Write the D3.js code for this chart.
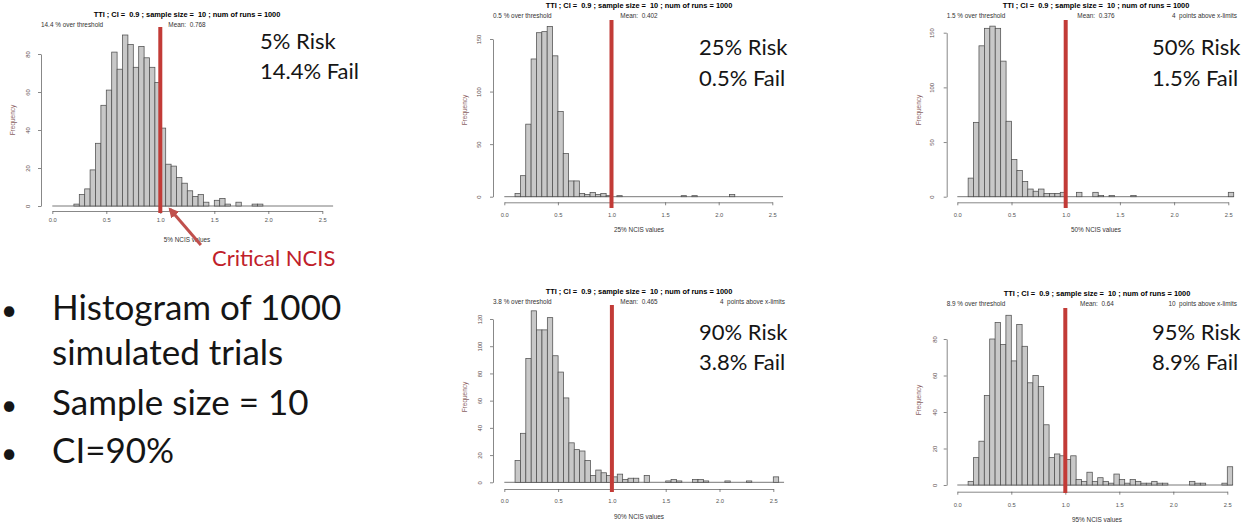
<!DOCTYPE html>
<html>
<head>
<meta charset="utf-8">
<title>NCIS histograms</title>
<script src="https://cdn.jsdelivr.net/npm/d3@7/dist/d3.min.js"></script>
<style>
    body { margin: 0; background: #fff; }
    svg { display: block; }
    .rtext { font-family: "Liberation Sans", Arial, sans-serif; }
    .rtext text { white-space: pre; }
    .slide { font-family: Lato, "Open Sans", sans-serif; }
</style>
</head>
<body>
<svg id="slide" width="1252" height="525"></svg>
<script>
// bin counts for the 1000 simulated runs, bins 0.05 wide starting at 0.0
var binWidth = 0.05;
var threshold = 1.0;

var counts05 = [0,0,0,0,1,6,9,19,33,53,61,81,72,90,85,73,84,78,73,65,
                41,22,21,15,12,8,5,6,2,0,3,4,1,0,2,0,0,1,1,0,
                0,0,0,0,0,0,0,0,0,0,0,0];
var counts25 = [0,0,3,20,69,131,156,157,162,134,81,41,15,15,3,2,4,2,3,1,
                0,1,0,0,0,0,0,0,0,0,0,0,0,1,0,1,0,0,0,0,
                0,0,2,0,0,0,0,0,0,0,0,0];
var counts50 = [0,0,17,68,138,154,156,154,124,69,34,24,14,7,5,7,3,3,3,4,
                0,0,4,0,0,4,1,0,1,0,0,0,1,0,0,0,0,0,0,0,
                0,0,0,0,0,0,0,0,0,0,4];
var counts90 = [0,0,16,36,91,126,112,112,121,93,81,62,29,24,23,16,5,9,7,5,
                4,6,2,3,3,0,5,0,0,0,1,2,1,0,0,2,2,1,0,0,
                0,1,0,0,0,1,0,0,0,0,4,0];
var counts95 = [0,0,2,15,24,49,80,89,77,93,68,88,76,56,60,54,33,15,17,16,
                14,16,3,2,7,2,4,2,1,6,3,1,3,2,1,1,2,1,1,0,
                0,0,0,2,1,1,0,0,0,1,10];

var xTicks = [0, 0.5, 1, 1.5, 2, 2.5];
var yTicks05 = [0, 20, 40, 60, 80];
var yTicks25 = [0, 50, 100, 150];
var yTicks50 = [0, 50, 100, 150];
var yTicks90 = [0, 20, 40, 60, 80, 100, 120];
var yTicks95 = [0, 20, 40, 60, 80];

var titleText = "TTI ; CI =  0.9 ; sample size =  10 ; num of runs = 1000";
var riskLabels = ["5% Risk", "25% Risk", "50% Risk", "90% Risk", "95% Risk"];
var failLabels = ["14.4% Fail", "0.5% Fail", "1.5% Fail", "3.8% Fail", "8.9% Fail"];
var overLabels = ["14.4 % over threshold", "0.5 % over threshold", "1.5 % over threshold",
                  "3.8 % over threshold", "8.9 % over threshold"];
var meanLabels = ["Mean:  0.768", "Mean:  0.402", "Mean:  0.376", "Mean:  0.465", "Mean:  0.64"];
var aboveLabels = ["", "", "4  points above x-limits", "4  points above x-limits", "10  points above x-limits"];
var xLabels = ["5% NCIS values", "25% NCIS values", "50% NCIS values", "90% NCIS values", "95% NCIS values"];

var bullets = [["Histogram of 1000", "simulated trials"], ["Sample size = 10"], ["CI=90%"]];
var calloutText = "Critical NCIS";

var allCounts = [counts05, counts25, counts50, counts90, counts95];
var allYTicks = [yTicks05, yTicks25, yTicks50, yTicks90, yTicks95];

// where each screenshot of the R plot sits on the slide
var layout = [
    {x0: 52.3, x1: 322.3, yZero: 206, yTop: 54, axisX: 41, axisY: 211, tickOff: 9, yLabOff: 11, freqY: 120,
        center: 187, right: 333, titleY: 16.5, subY: 27, xlabY: 242, lineTop: 27, lineBot: 213, textX: 260, riskY: 49, failY: 79},
    {x0: 504.3, x1: 772.3, yZero: 196.7, yTop: 39, axisX: 493, axisY: 202.3, tickOff: 12.5, yLabOff: 12, freqY: 110,
        center: 639, right: 785, titleY: 7.5, subY: 18, xlabY: 232, lineTop: 20, lineBot: 208, textX: 699, riskY: 55, failY: 86},
    {x0: 957.3, x1: 1228.3, yZero: 196.7, yTop: 32.7, axisX: 946.7, axisY: 202.3, tickOff: 12.5, yLabOff: 13, freqY: 110,
        center: 1096, right: 1237, titleY: 7.5, subY: 18, xlabY: 232, lineTop: 20, lineBot: 208, textX: 1152, riskY: 55, failY: 86},
    {x0: 504.3, x1: 773.3, yZero: 482.3, yTop: 319, axisX: 493, axisY: 489, tickOff: 11.7, yLabOff: 11, freqY: 397,
        center: 639, right: 785, titleY: 293.5, subY: 304, xlabY: 519, lineTop: 305, lineBot: 492, textX: 699, riskY: 340, failY: 370},
    {x0: 957.3, x1: 1227.3, yZero: 485, yTop: 339, axisX: 946.7, axisY: 491.7, tickOff: 13.3, yLabOff: 10, freqY: 400,
        center: 1097, right: 1237, titleY: 295.5, subY: 306, xlabY: 521.5, lineTop: 308, lineBot: 493, textX: 1152, riskY: 340, failY: 370}
];

var svg = d3.select("#slide");
var redLine = "#c23b37";
var scales = [];

var drawHist = function(i) {
    var lay = layout[i];
    var counts = allCounts[i];
    var yTicks = allYTicks[i];
    var yMax = yTicks[yTicks.length - 1];

    var x = d3.scaleLinear().domain([0, 2.5]).range([lay.x0, lay.x1]);
    var y = d3.scaleLinear().domain([0, yMax]).range([lay.yZero, lay.yTop]);
    scales.push({x: x, y: y});

    var g = svg.append("g").attr("class", "rtext");

    var bins = counts.map(function(c, j) {
        return {lo: j * binWidth, hi: (j + 1) * binWidth, n: c};
    });

    // zero height bins show up as a flat line along the bottom
    g.append("line")
        .attr("x1", x(0)).attr("x2", x(counts.length * binWidth))
        .attr("y1", y(0)).attr("y2", y(0))
        .attr("stroke", "#555").attr("stroke-width", 0.8);

    g.selectAll("rect.bar")
        .data(bins.filter(function(d) { return d.n > 0; }))
        .enter()
        .append("rect")
        .attr("class", "bar")
        .attr("x", function(d) { return x(d.lo); })
        .attr("width", function(d) { return x(d.hi) - x(d.lo); })
        .attr("y", function(d) { return y(d.n); })
        .attr("height", function(d) { return y(0) - y(d.n); })
        .attr("fill", "#c8c8c8")
        .attr("stroke", "#4f4f4f")
        .attr("stroke-width", 0.75);

    var xAxis = d3.axisBottom(x).tickValues(xTicks).tickFormat(d3.format(".1f"))
        .tickSize(3).tickSizeOuter(0);
    var xa = g.append("g")
        .attr("transform", "translate(0," + lay.axisY + ")")
        .call(xAxis);
    xa.attr("font-size", 5.8).attr("font-family", null).attr("color", "#555");
    xa.selectAll("line, path").attr("stroke-width", 0.7);
    xa.selectAll(".tick text").attr("y", lay.tickOff).attr("dy", "0.35em").attr("fill", "#555");

    var yAxis = d3.axisLeft(y).tickValues(yTicks).tickSize(3).tickSizeOuter(0);
    var ya = g.append("g")
        .attr("transform", "translate(" + lay.axisX + ",0)")
        .call(yAxis);
    ya.attr("font-size", 5.8).attr("font-family", null).attr("color", "#555");
    ya.selectAll("line, path").attr("stroke-width", 0.7);
    ya.selectAll(".tick text")
        .attr("transform", "rotate(-90)")
        .attr("x", 0).attr("y", -lay.yLabOff).attr("dy", 0)
        .attr("text-anchor", "middle")
        .attr("fill", "#5a4c4c");

    g.append("text")
        .attr("transform", "translate(" + (lay.axisX - 26) + "," + lay.freqY + ") rotate(-90)")
        .attr("text-anchor", "middle")
        .attr("font-size", 6.5)
        .attr("fill", "#8a6262")
        .text("Frequency");

    g.append("text")
        .attr("x", lay.center).attr("y", lay.titleY)
        .attr("text-anchor", "middle")
        .attr("font-size", 7.4).attr("font-weight", "bold")
        .text(titleText);

    g.append("text")
        .attr("x", lay.axisX).attr("y", lay.subY)
        .attr("font-size", 6.4).attr("fill", "#333")
        .text(overLabels[i]);
    g.append("text")
        .attr("x", lay.center).attr("y", lay.subY)
        .attr("text-anchor", "middle")
        .attr("font-size", 6.4).attr("fill", "#333")
        .text(meanLabels[i]);
    if (aboveLabels[i]) {
        g.append("text")
            .attr("x", lay.right).attr("y", lay.subY)
            .attr("text-anchor", "end")
            .attr("font-size", 6.4).attr("fill", "#333")
            .text(aboveLabels[i]);
    }

    g.append("text")
        .attr("x", lay.center).attr("y", lay.xlabY)
        .attr("text-anchor", "middle")
        .attr("font-size", 6.4).attr("fill", "#333")
        .text(xLabels[i]);

    // the critical value line
    g.append("line")
        .attr("x1", x(threshold)).attr("x2", x(threshold))
        .attr("y1", lay.lineTop).attr("y2", lay.lineBot)
        .attr("stroke", redLine).attr("stroke-width", 4);

    var big = svg.append("g").attr("class", "slide").attr("font-size", 22).attr("fill", "#151515");
    big.append("text").attr("x", lay.textX).attr("y", lay.riskY).text(riskLabels[i]);
    big.append("text").attr("x", lay.textX).attr("y", lay.failY).text(failLabels[i]);
};

for (var i = 0; i < allCounts.length; i++) {
    drawHist(i);
}

// arrow + callout on the first histogram
var defs = svg.append("defs");
defs.append("marker")
    .attr("id", "head")
    .attr("viewBox", "0 0 10 10")
    .attr("refX", 8).attr("refY", 5)
    .attr("markerWidth", 3.4).attr("markerHeight", 3.4)
    .attr("orient", "auto")
    .append("path")
    .attr("d", "M0,0L10,5L0,10z")
    .attr("fill", "#c0504d");

var tipX = scales[0].x(1.07), tipY = scales[0].y(0) + 1;
svg.append("line")
    .attr("x1", tipX + 33).attr("y1", tipY + 38)
    .attr("x2", tipX + 2).attr("y2", tipY + 2)
    .attr("stroke", "#c0504d").attr("stroke-width", 3)
    .attr("marker-end", "url(#head)");

svg.append("text")
    .attr("class", "slide")
    .attr("x", 212).attr("y", 266)
    .attr("font-size", 22)
    .attr("fill", "#c0202a")
    .text(calloutText);

// bullet list
var bulletG = svg.append("g").attr("class", "slide").attr("font-size", 35).attr("fill", "#151515");
var lineY = [[320, 365], [415], [463]];
bullets.forEach(function(lines, b) {
    bulletG.append("text")
        .attr("x", 1).attr("y", lineY[b][0])
        .attr("font-size", 28)
        .text("\u2022");
    lines.forEach(function(t, k) {
        bulletG.append("text")
            .attr("x", 52).attr("y", lineY[b][k])
            .text(t);
    });
});
</script>
</body>
</html>
